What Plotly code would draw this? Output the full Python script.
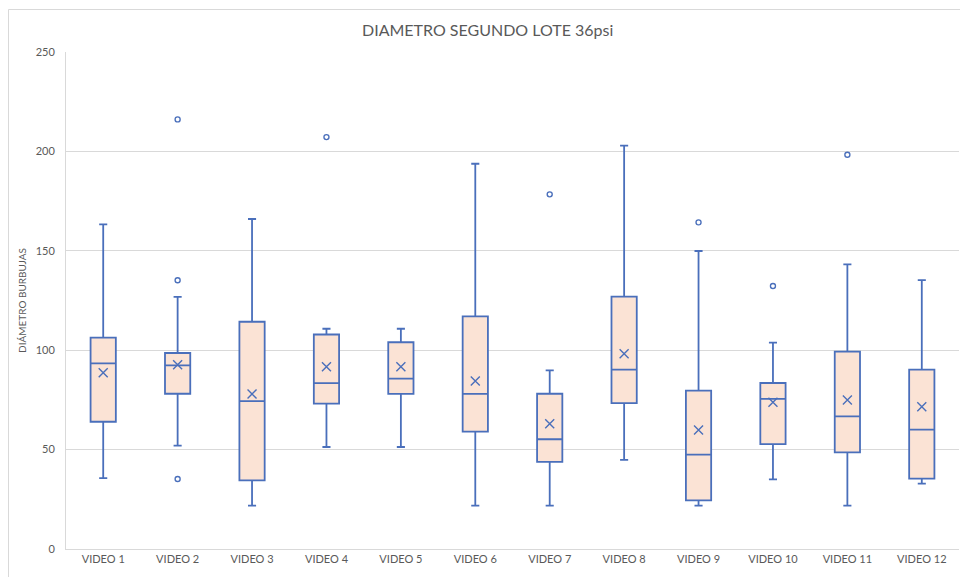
import plotly.graph_objects as go

# Box statistics per video (bubble diameter)
videos = [f"VIDEO {i}" for i in range(1, 13)]
lower_whisker = [35.7, 52.0, 21.8, 51.3, 51.3, 21.8, 21.8, 44.8, 21.8, 35.0, 21.8, 32.9]
q1_vals       = [64.0, 78.1, 34.5, 73.1, 78.0, 59.0, 43.8, 73.4, 24.5, 52.8, 48.6, 35.4]
median_vals   = [93.4, 92.4, 74.4, 83.4, 85.7, 78.0, 55.2, 90.2, 47.5, 75.5, 66.7, 60.0]
q3_vals       = [106.3, 98.6, 114.3, 107.9, 104.0, 117.0, 78.1, 126.9, 79.7, 83.5, 99.3, 90.2]
upper_whisker = [163.3, 126.8, 166.0, 110.8, 110.8, 193.8, 89.9, 202.9, 149.9, 103.8, 143.2, 135.2]
mean_vals     = [88.7, 92.7, 78.0, 91.7, 91.7, 84.5, 63.0, 98.2, 59.9, 73.8, 74.9, 71.6]

# Outlying points
outlier_video = ["VIDEO 2", "VIDEO 2", "VIDEO 2", "VIDEO 4", "VIDEO 7", "VIDEO 9", "VIDEO 10", "VIDEO 11"]
outlier_value = [216.1, 135.2, 35.2, 207.2, 178.4, 164.3, 132.3, 198.3]

y_ticks = [0, 50, 100, 150, 200, 250]

LINE = "#4A6FBB"
FILL = "#FBE3D5"
TEXT = "#595959"
GRID = "#D9D9D9"
FONT = "Lato, Liberation Sans, sans-serif"

fig = go.Figure()

fig.add_trace(go.Box(
    x=videos,
    q1=q1_vals,
    median=median_vals,
    q3=q3_vals,
    lowerfence=lower_whisker,
    upperfence=upper_whisker,
    boxpoints=False,
    fillcolor=FILL,
    line=dict(color=LINE, width=1.8),
    whiskerwidth=0.32,
    showlegend=False,
    hoverinfo="skip",
))

fig.add_trace(go.Scatter(
    x=videos,
    y=mean_vals,
    mode="markers",
    marker=dict(symbol="x-thin-open", size=9, color=LINE, line=dict(color=LINE, width=1.4)),
    showlegend=False,
    hoverinfo="skip",
))

fig.add_trace(go.Scatter(
    x=outlier_video,
    y=outlier_value,
    mode="markers",
    marker=dict(symbol="circle-open", size=5, color=LINE, line=dict(color=LINE, width=1.4)),
    showlegend=False,
    hoverinfo="skip",
))

# Light outer frame around the chart
fig.add_shape(
    type="rect", xref="paper", yref="paper",
    x0=-0.0644, x1=1.02, y0=-0.07, y1=1.0855,
    line=dict(color=GRID, width=1), fillcolor="rgba(0,0,0,0)", layer="below",
)

fig.update_layout(
    width=960,
    height=577,
    margin=dict(l=66, r=1, t=52, b=28),
    paper_bgcolor="white",
    plot_bgcolor="white",
    boxgap=0.515,
    font=dict(family=FONT, color=TEXT, size=11),
    title=dict(
        text="DIAMETRO SEGUNDO LOTE 36psi",
        x=0.508, xanchor="center",
        y=0.948, yanchor="middle",
        font=dict(family=FONT, size=16, color=TEXT),
    ),
    xaxis=dict(
        type="category",
        categoryorder="array",
        categoryarray=videos,
        range=[-0.5, 11.5],
        showgrid=False,
        showline=True,
        linecolor=GRID,
        linewidth=1,
        ticks="",
        tickfont=dict(size=11, color=TEXT),
        zeroline=False,
    ),
    yaxis=dict(
        range=[0, 250],
        tickvals=y_ticks,
        showgrid=True,
        gridcolor=GRID,
        gridwidth=1,
        showline=True,
        linecolor=GRID,
        linewidth=1,
        zeroline=False,
        ticks="",
        ticklabelstandoff=8,
        tickfont=dict(size=11, color=TEXT),
        title=dict(text="DIÁMETRO BURBUJAS", font=dict(size=10, color=TEXT), standoff=7),
    ),
)

fig.write_html("out.html")
